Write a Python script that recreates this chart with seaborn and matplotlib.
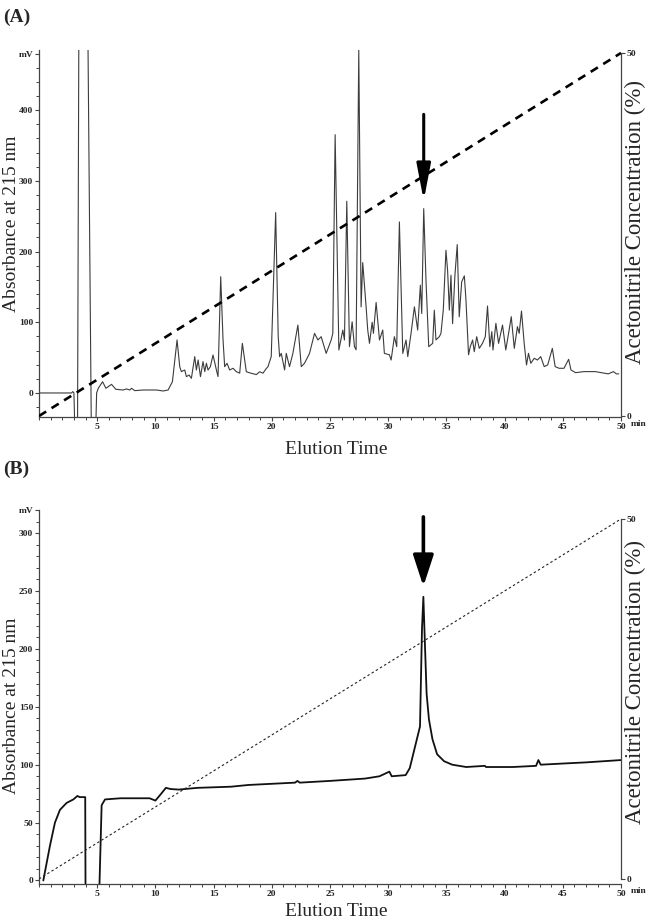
import matplotlib
matplotlib.use("Agg")
import matplotlib.pyplot as plt
from matplotlib.ticker import MultipleLocator
import seaborn as sns

# %%
# chromatogram A (crude extract)
a_time = [0, 2.8, 2.9, 3.0, 3.15, 3.3, 3.46, 4.1, 4.52, 4.8, 4.95, 5.09, 5.46, 5.75,
          6.23, 6.6, 7.23, 7.52, 7.8, 7.95, 8.23, 8.95, 10.1, 10.66, 11.09, 11.46,
          11.86, 12.09, 12.23, 12.52, 12.66, 12.89, 13.09, 13.38, 13.52, 13.67,
          13.87, 14.09, 14.24, 14.38, 14.52, 14.72, 14.95, 15.24, 15.38, 15.61,
          15.81, 15.95, 16.15, 16.38, 16.67, 16.95, 17.24, 17.47, 17.81, 18.2,
          18.67, 18.95, 19.24, 19.5, 19.67, 19.95, 20.33, 20.55, 20.67, 20.81,
          21.1, 21.24, 21.52, 21.81, 22.24, 22.53, 22.81, 23.24, 23.67, 23.96,
          24.24, 24.67, 25.1, 25.24, 25.44, 25.76, 26.1, 26.24, 26.44, 26.67,
          26.9, 27.1, 27.24, 27.47, 27.67, 27.81, 28.1, 28.24, 28.39, 28.62,
          28.73, 28.96, 29.25, 29.53, 29.67, 30.1, 30.25, 30.53, 30.73, 30.96,
          31.25, 31.53, 31.68, 31.96, 32.25, 32.53, 32.76, 32.88, 33.05, 33.25,
          33.48, 33.82, 33.96, 34.1, 34.39, 34.53, 34.73, 34.96, 35.1, 35.25,
          35.39, 35.53, 35.73, 35.93, 36.1, 36.31, 36.54, 36.68, 36.9, 37.05,
          37.25, 37.39, 37.6, 37.82, 38.1, 38.34, 38.53, 38.73, 38.9, 39.0,
          39.25, 39.48, 39.82, 40.1, 40.34, 40.57, 40.83, 41.1, 41.25, 41.45,
          41.68, 41.88, 42.05, 42.25, 42.54, 42.82, 43.1, 43.4, 43.7, 44.1,
          44.34, 44.68, 45.1, 45.5, 45.7, 46.1, 46.8, 47.8, 48.9, 49.35, 49.6,
          49.8]
a_mv = [0, 0, 2, 0, -100, -100, 700, 700, -100, -100, 0, 6.6, 15.9, 6.6,
        12.2, 5.2, 4.2, 5.7, 4.2, 6.6, 3.3, 4.2, 4.2, 2.8, 4.2, 15.9,
        75, 37.2, 30.2, 32.5, 23.1, 25.4, 20.7, 51.4, 32.5, 46.6,
        23.1, 44.3, 30.2, 42.0, 32.5, 37.2, 53.7, 32.5, 23.1, 164.4,
        75, 37.2, 42, 32.5, 34.9, 30.2, 28, 70.2, 30, 28,
        26, 30, 28, 34, 37.2, 51.4, 255.1, 80, 51.4, 56,
        32.5, 56, 37.2, 56, 96, 37.2, 42, 56, 84.3, 74.9,
        79.6, 56, 74.9, 84.3, 365.3, 60.8, 89, 74.9, 271.1, 65.5,
        100.7, 65.5, 61, 485, 121.8, 184.4, 121.8, 89, 70.2, 100,
        84.3, 128, 74.9, 89, 56, 54, 46.6, 79.6, 65.5, 241.9,
        56, 74.9, 51.4, 84.3, 121.8, 89, 152.4, 112.4, 260.7, 157.1,
        65.5, 70.2, 117.1, 75, 79.6, 84.3, 117.1, 201.8, 173.6, 117.1,
        166.5, 98, 166.5, 209.9, 107.7, 157.1, 165.6, 131.2, 54, 65.5,
        74.9, 58.4, 79.6, 63.1, 70.2, 79.6, 123, 65.5, 86.7, 60.8,
        98.5, 70.2, 96.1, 60.8, 84.3, 107.9, 63.1, 93.8, 84.3, 115.9,
        70.2, 39.6, 56.1, 42, 49, 46.6, 51.4, 37.3, 39.6, 63.1,
        37.3, 34.9, 34.9, 47.6, 32.5, 28.7, 30.2, 30.2, 27, 30.2, 27,
        27]

# chromatogram B (purified fraction)
b_time = [0.37, 0.94, 1.37, 1.8, 2.37, 2.95, 3.3, 3.5, 3.97, 4.0, 5.15, 5.38, 5.67,
          7.0, 9.5, 10.0, 10.5, 10.9, 11.3, 12.0, 13.6, 16.5, 18.0, 20.0, 22.0,
          22.2, 22.4, 25.0, 28.0, 29.25, 30.1, 30.3, 31.5, 31.85, 32.73, 32.9,
          33.02, 33.16, 33.3, 33.5, 33.8, 34.2, 34.8, 35.5, 36.7, 38.3, 38.4,
          40.7, 42.7, 42.9, 43.1, 45.0, 47.0, 50.0]
b_mv = [0, 30, 50, 61, 67, 70, 73, 72, 72, -20, -20, 65, 70,
        71, 71, 69, 75, 80, 79, 78.5, 80, 81, 82.5, 83.5, 84.5,
        86, 84.5, 86, 88, 90, 94, 90, 91, 97, 133, 217,
        245, 202, 161, 139, 122, 109, 103, 100, 98, 99, 98,
        98, 99, 104, 100, 101, 102, 104]

# acetonitrile gradient (right axis)
grad_time = [0, 50]
grad_pct = [0, 50]

# target peak marked with an arrow: (time, arrow tip, arrow tail) in mV
arrow_a = (33.05, 272, 394)
arrow_b = (33.02, 254, 314)

# %%
sns.set_theme(style="ticks")
plt.rcParams["font.family"] = ["Liberation Serif", "DejaVu Serif"]

fig = plt.figure(figsize=(6.49, 9.23), dpi=100)
axA = fig.add_axes([0.0601, 0.5482, 0.8968, 0.3976])
axB = fig.add_axes([0.0601, 0.0423, 0.8968, 0.4052])

spine_col = "#444444"


def style_panel(ax, ylim, yticks, ylabels, yminor, rlim, label_y, rlabel_y, xlab_y):
    ax.set_xlim(0, 50)
    ax.set_ylim(*ylim)
    ax.set_xticks([5, 10, 15, 20, 25, 30, 35, 40, 45, 50])
    ax.set_xticklabels(["5", "10", "15", "20", "25", "30", "35", "40", "45", "50"])
    ax.xaxis.set_minor_locator(MultipleLocator(1))
    ax.set_yticks(yticks)
    ax.set_yticklabels(ylabels)
    ax.yaxis.set_minor_locator(MultipleLocator(yminor))
    ax.tick_params(which="major", direction="out", length=3, width=0.8, labelsize=6.8,
                   pad=1.2, color=spine_col)
    ax.tick_params(which="minor", direction="out", length=2, width=0.7, color=spine_col)
    for lab in ax.get_xticklabels() + ax.get_yticklabels():
        lab.set_fontweight("bold")
    for s in ["top", "right"]:
        ax.spines[s].set_visible(False)
    for s in ["left", "bottom"]:
        ax.spines[s].set_color(spine_col)
        ax.spines[s].set_linewidth(0.9)
    ax.set_ylabel("Absorbance at 215 nm", fontsize=14)
    ax.yaxis.set_label_coords(-0.0333, label_y)
    ax.set_xlabel("Elution Time", fontsize=14)
    ax.xaxis.set_label_coords(0.51, xlab_y)
    ax.annotate("min", xy=(1, 0), xycoords="axes fraction", xytext=(7, -2.5),
                textcoords="offset points", ha="left", va="top", fontsize=6.8,
                fontweight="bold")

    ax2 = ax.twinx()
    ax2.set_ylim(*rlim)
    ax2.set_yticks([0, 50])
    ax2.set_yticklabels(["0", "50"])
    ax2.tick_params(direction="out", length=3, width=0.8, labelsize=6.8, pad=1.2,
                    color=spine_col)
    for lab in ax2.get_yticklabels():
        lab.set_fontweight("bold")
    for s in ["top", "left", "bottom"]:
        ax2.spines[s].set_visible(False)
    ax2.spines["right"].set_bounds(0, 50)
    ax2.spines["right"].set_color(spine_col)
    ax2.spines["right"].set_linewidth(0.9)
    ax2.set_ylabel("Acetonitrile Concentration (%)", fontsize=16.5, rotation=90)
    ax2.yaxis.set_label_coords(1.007, rlabel_y)
    return ax2


# %%
sns.lineplot(x=a_time, y=a_mv, ax=axA, color="#3c3c3c", linewidth=0.8,
             sort=False, estimator=None)
axA2 = style_panel(axA, (-34, 485), [0, 100, 200, 300, 400, 480],
                   ["0", "100", "200", "300", "400", "mV"], 20,
                   (-0.14, 50.4), 0.526, 0.531, -0.066)
sns.lineplot(x=grad_time, y=grad_pct, ax=axA2, color="black", linewidth=1.9,
             linestyle=(0, (3.2, 2.4)))
axA2.annotate("", xy=(arrow_a[0], arrow_a[1]), xycoords=axA.transData,
              xytext=(arrow_a[0], arrow_a[2]), textcoords=axA.transData,
              arrowprops=dict(arrowstyle="-|>,head_length=2.2,head_width=0.42",
                              mutation_scale=10, lw=2.2, color="black",
                              shrinkA=0, shrinkB=0))

sns.lineplot(x=b_time, y=b_mv, ax=axB, color="#111111", linewidth=1.3,
             sort=False, estimator=None)
axB2 = style_panel(axB, (-3, 320), [0, 50, 100, 150, 200, 250, 300, 320],
                   ["0", "50", "100", "150", "200", "250", "300", "mV"], 10,
                   (-0.7, 51.25), 0.476, 0.54, -0.05)
sns.lineplot(x=grad_time, y=grad_pct, ax=axB2, color="#222222", linewidth=0.8,
             linestyle=(0, (2.2, 2.2)))
axB2.annotate("", xy=(arrow_b[0], arrow_b[1]), xycoords=axB.transData,
              xytext=(arrow_b[0], arrow_b[2]), textcoords=axB.transData,
              arrowprops=dict(arrowstyle="-|>,head_length=1.9,head_width=0.62",
                              mutation_scale=10, lw=2.6, color="black",
                              shrinkA=0, shrinkB=0))

fig.text(0.005, 0.9816, "(A)", fontsize=14, fontweight="bold", va="center")
fig.text(0.005, 0.491, "(B)", fontsize=14, fontweight="bold", va="center")

fig.savefig("out.png", dpi=100)
